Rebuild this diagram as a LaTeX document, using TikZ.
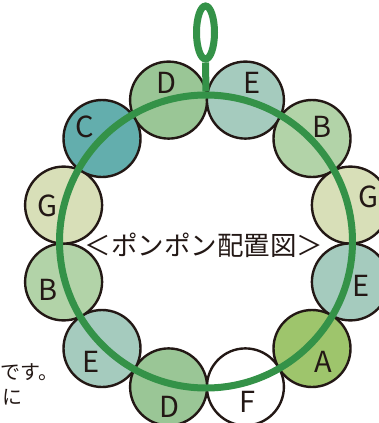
\documentclass[tikz,border=0pt]{standalone}
\usepackage{fontspec}
\newfontfamily\cjk{Noto Sans CJK JP}
\usetikzlibrary{shapes.geometric}
\definecolor{cD}{HTML}{9AC696}
\definecolor{cE}{HTML}{A5CBBE}
\definecolor{cB}{HTML}{B2D3A8}
\definecolor{cG}{HTML}{D8DFB8}
\definecolor{cC}{HTML}{63AEAD}
\definecolor{cA}{HTML}{9EC56C}
\definecolor{ringc}{HTML}{349248}
\definecolor{outl}{HTML}{231815}
\begin{document}
\begin{tikzpicture}[x=1pt,y=-1pt,
  ball/.style={circle,draw=outl,line width=2.4pt,minimum size=77pt,inner sep=0pt},
  lab/.style={font=\cjk\fontsize{29}{29}\selectfont,text=outl,inner sep=0pt},
  ringline/.style={draw=ringc,line width=7pt},
  jtext/.style={font=\cjk\fontsize{20}{20}\selectfont,text=outl,inner sep=0pt}]
\useasboundingbox (0,0) rectangle (379,423);
% balls
\node[ball,fill=cD] (b1) at (168.6,100.1) {};
\node[ball,fill=cE] (b2) at (245.4,100.1) {};
\node[ball,fill=cB] (b3) at (312.0,138.5) {};
\node[ball,fill=cG] (b4) at (350.4,205.1) {};
\node[ball,fill=cE] (b5) at (350.4,281.9) {};
\node[ball,fill=cA] (b6) at (312.0,348.5) {};
\node[ball,fill=white] (b7) at (245.4,386.9) {};
\node[ball,fill=cD] (b8) at (168.6,386.9) {};
\node[ball,fill=cE] (b9) at (102.0,348.5) {};
\node[ball,fill=cB] (b10) at (63.6,281.9) {};
\node[ball,fill=cG] (b11) at (63.6,205.1) {};
\node[ball,fill=cC] (b12) at (102.0,138.5) {};
% ring and hanger
\node[circle,ringline,minimum size=293pt,inner sep=0pt] (ring) at (206,241.5) {};
\node[ellipse,draw=ringc,line width=7pt,minimum width=18pt,minimum height=53pt,inner sep=0pt] (loop) at (205.5,32.5) {};
\draw[draw=ringc,line width=7pt] (loop.south) -- (ring.north);
% labels
\node[lab] (l1) at (166,83) {D};
\node[lab] (l2) at (252,83) {E};
\node[lab] (l3) at (322,127) {B};
\node[lab] (l4) at (368,197) {G};
\node[lab] (l5) at (361,286) {E};
\node[lab] (l6) at (323,362) {A};
\node[lab] (l7) at (248,402) {F};
\node[lab] (l8) at (169,407) {D};
\node[lab] (l9) at (91,362) {E};
\node[lab] (l10) at (48,290) {B};
\node[lab] (l11) at (47,206) {G};
\node[lab] (l12) at (85,127) {C};
% title
\node[font=\cjk\fontsize{26.5}{26.5}\selectfont,text=outl,inner sep=0pt] (title) at (204,245) {＜ポンポン配置図＞};
% cut-off side text
\node[jtext,anchor=west] (t1) at (0,372) {です。};
\node[jtext] (t2) at (12.5,397) {に};
\end{tikzpicture}
\end{document}
